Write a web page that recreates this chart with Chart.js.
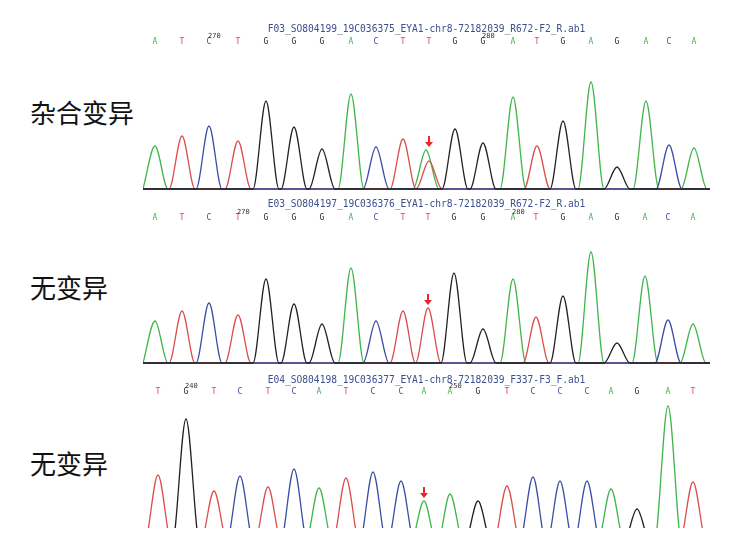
<!DOCTYPE html>
<html>
<head>
<meta charset="utf-8">
<script src="https://cdn.jsdelivr.net/npm/chart.js@4.4.0/dist/chart.umd.min.js"></script>
<style>
body { margin: 0; background: #fff; width: 741px; height: 546px; position: relative; overflow: hidden; }
.trace { position: absolute; left: 143px; }
.label { position: absolute; left: 30px; font-family: "Noto Sans CJK SC", sans-serif; font-size: 26px; line-height: 1; color: #111; }
</style>
</head>
<body>
<div class="label" style="top:99px">杂合变异</div>
<div class="label" style="top:274px">无变异</div>
<div class="label" style="top:450px">无变异</div>
<canvas id="trace1" class="trace" width="567" height="170" style="top:20px"></canvas>
<canvas id="trace2" class="trace" width="567" height="170" style="top:194px"></canvas>
<canvas id="trace3" class="trace" width="567" height="158" style="top:370px"></canvas>
<script>
// colours per base
const baseColors = { A: '#3fb54b', C: '#3c4da6', G: '#222222', T: '#dc4c4c' };

// file names
const titles = [
    'F03_SO804199_19C036375_EYA1-chr8-72182039_R672-F2_R.ab1',
    'E03_SO804197_19C036376_EYA1-chr8-72182039_R672-F2_R.ab1',
    'E04_SO804198_19C036377_EYA1-chr8-72182039_F337-F3_F.ab1'
];

// panel 1: heterozygous
const bases1 = ['A','T','C','T','G','G','G','A','C','T','T','G','G','A','T','G','A','G','A','C','A'];
const pos1 = [12, 39, 66, 95, 123, 151, 179, 208, 233, 260, 286, 312, 340, 370, 394, 420, 448, 474, 503, 526, 551];
const heights1 = [43, 53, 63, 48, 88, 62, 40, 95, 42, 50, 28, 60, 46, 92, 43, 68, 107, 22, 88, 44, 41];
const minorBases1 = ['A'];
const minorPos1 = [283];
const minorHeights1 = [39];
const markIdx1 = [2, 12];
const markText1 = ['270', '280'];

// panel 2: no variant
const bases2 = ['A','T','C','T','G','G','G','A','C','T','T','G','G','A','T','G','A','G','A','C','A'];
const pos2 = [12, 39, 66, 95, 123, 151, 179, 208, 233, 260, 285, 311, 340, 370, 393, 420, 448, 474, 502, 525, 550];
const heights2 = [42, 52, 60, 48, 84, 59, 39, 95, 42, 52, 55, 90, 34, 84, 46, 67, 111, 20, 87, 43, 39];
const markIdx2 = [3, 13];
const markText2 = ['270', '280'];

// panel 3: no variant (forward read)
const bases3 = ['T','G','T','C','T','C','A','T','C','C','A','A','G','T','C','C','C','A','G','A','T'];
const pos3 = [15, 43, 71, 97, 125, 151, 176, 203, 230, 258, 281, 307, 335, 364, 390, 417, 444, 468, 494, 525, 550];
const heights3 = [70, 126, 54, 69, 58, 76, 57, 67, 73, 64, 44, 51, 44, 59, 68, 64, 64, 56, 36, 139, 63];
const markIdx3 = [1, 11];
const markText3 = ['240', '250'];

const arrowIdx = 10;
const scanMax = 567;

function buildTraces(bases, pos, heights, extraBases, extraPos, extraHeights, half) {
    const peaks = bases.map((b, i) => ({ b: b, x: pos[i], h: heights[i] }));
    extraBases.forEach((b, i) => peaks.push({ b: b, x: extraPos[i], h: extraHeights[i] }));
    return ['G', 'C', 'T', 'A'].map(base => {
        const own = peaks.filter(p => p.b === base).sort((a, b) => a.x - b.x);
        const pts = [{ x: 0, y: 0 }];
        own.forEach(p => {
            const left = p.x - half;
            const last = pts[pts.length - 1];
            if (left <= last.x) {
                last.x = Math.max(0, (left + last.x) / 2);
            } else {
                pts.push({ x: left, y: 0 });
            }
            pts.push({ x: p.x, y: p.h });
            pts.push({ x: Math.min(scanMax, p.x + half), y: 0 });
        });
        if (pts[pts.length - 1].x < scanMax) pts.push({ x: scanMax, y: 0 });
        return {
            data: pts,
            borderColor: baseColors[base],
            borderWidth: 1.3,
            pointRadius: 0,
            cubicInterpolationMode: 'monotone',
            fill: false
        };
    });
}

// draws file name, base calls, position numbers and the red arrow
const callsPlugin = {
    id: 'calls',
    afterDraw(chart, args, o) {
        const ctx = chart.ctx;
        const x = chart.scales.x;
        const y = chart.scales.y;
        ctx.save();
        ctx.textAlign = 'center';
        ctx.textBaseline = 'middle';
        ctx.font = '9.6px "DejaVu Sans Mono"';
        ctx.fillStyle = '#3e4f8e';
        ctx.fillText(o.title, chart.width / 2, o.titleY);

        ctx.font = '8px "DejaVu Sans Mono"';
        o.bases.forEach((b, i) => {
            ctx.fillStyle = baseColors[b];
            ctx.fillText(b, x.getPixelForValue(o.pos[i]), o.callY);
        });

        ctx.font = '7px "DejaVu Sans Mono"';
        ctx.fillStyle = '#333';
        ctx.textAlign = 'left';
        o.markIdx.forEach((idx, i) => {
            ctx.fillText(o.markText[i], x.getPixelForValue(o.pos[idx]) - 1, o.callY - 6);
        });

        const ax = x.getPixelForValue(o.pos[arrowIdx]);
        const tip = y.getPixelForValue(o.arrowTop) - 3;
        ctx.strokeStyle = '#e8252a';
        ctx.fillStyle = '#e8252a';
        ctx.lineWidth = 2;
        ctx.beginPath();
        ctx.moveTo(ax, tip - 11);
        ctx.lineTo(ax, tip - 4);
        ctx.stroke();
        ctx.beginPath();
        ctx.moveTo(ax - 4, tip - 5);
        ctx.lineTo(ax + 4, tip - 5);
        ctx.lineTo(ax, tip);
        ctx.closePath();
        ctx.fill();
        ctx.restore();
    }
};

function drawTrace(id, datasets, yMin, yMax, padTop, calls) {
    new Chart(document.getElementById(id), {
        type: 'line',
        data: { datasets: datasets },
        options: {
            responsive: false,
            animation: false,
            events: [],
            layout: { padding: { top: padTop, left: 0, right: 0, bottom: 0 } },
            scales: {
                x: { type: 'linear', min: 0, max: scanMax, display: false },
                y: { min: yMin, max: yMax, display: false }
            },
            plugins: {
                legend: { display: false },
                tooltip: { enabled: false },
                calls: calls
            }
        },
        plugins: [callsPlugin]
    });
}

drawTrace('trace1', buildTraces(bases1, pos1, heights1, minorBases1, minorPos1, minorHeights1, 13), -1, 142, 27, {
    title: titles[0], titleY: 9, callY: 22, bases: bases1, pos: pos1,
    markIdx: markIdx1, markText: markText1,
    arrowTop: Math.max(heights1[arrowIdx], minorHeights1[0])
});
drawTrace('trace2', buildTraces(bases2, pos2, heights2, [], [], [], 13), -1, 139, 30, {
    title: titles[1], titleY: 10, callY: 24, bases: bases2, pos: pos2,
    markIdx: markIdx2, markText: markText2,
    arrowTop: heights2[arrowIdx]
});
drawTrace('trace3', buildTraces(bases3, pos3, heights3, [], [], [], 14), 17, 145, 30, {
    title: titles[2], titleY: 10, callY: 22, bases: bases3, pos: pos3,
    markIdx: markIdx3, markText: markText3,
    arrowTop: heights3[arrowIdx]
});
</script>
</body>
</html>
